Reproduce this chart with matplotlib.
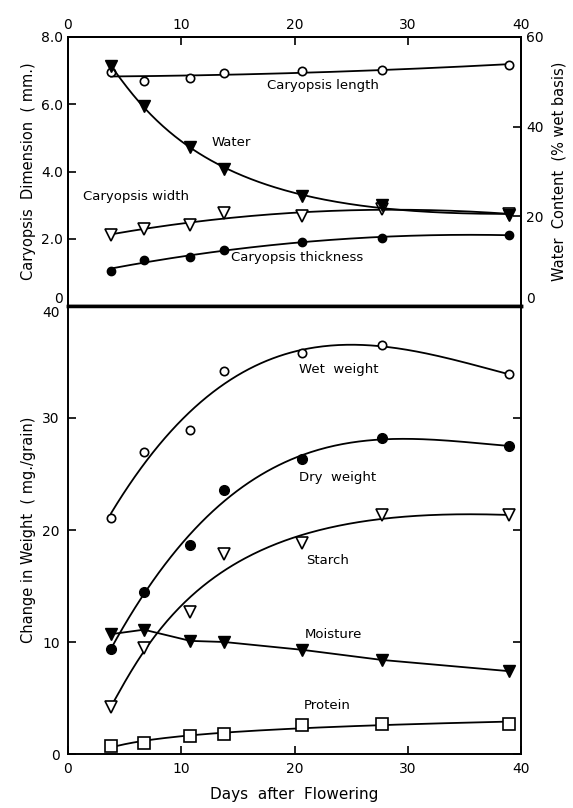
import numpy as np
import matplotlib.pyplot as plt

plt.rcParams['font.family'] = ['DejaVu Sans']

# days after flowering (sampling dates)
days = np.array([3.8, 6.7, 10.8, 13.8, 20.7, 27.7, 38.9])

# top panel: caryopsis dimensions (mm) and water content (% wet basis)
length = np.array([6.95, 6.70, 6.78, 6.93, 6.98, 7.02, 7.18])
width = np.array([2.12, 2.28, 2.42, 2.78, 2.68, 2.87, 2.75])
thickness = np.array([1.05, 1.38, 1.47, 1.68, 1.90, 2.02, 2.12])
water = np.array([53.5, 44.5, 35.5, 30.5, 24.5, 22.5, 20.3])

# bottom panel: change in weight (mg/grain)
wet_wt = np.array([21.1, 27.0, 28.9, 34.2, 35.8, 36.5, 33.9])
dry_wt = np.array([9.4, 14.5, 18.7, 23.6, 26.3, 28.2, 27.5])
starch = np.array([4.2, 9.5, 12.7, 17.9, 18.8, 21.3, 21.3])
moisture = np.array([10.7, 11.1, 10.1, 10.0, 9.3, 8.4, 7.4])
protein = np.array([0.7, 1.0, 1.6, 1.8, 2.6, 2.7, 2.7])

xs = np.linspace(days[0], days[-1], 200)


def fit(y, deg, logx=False):
    u = np.log(days) if logx else days
    us = np.log(xs) if logx else xs
    return np.polyval(np.polyfit(u, y, deg), us)


W, H = 573, 808
fig = plt.figure(figsize=(W / 100, H / 100), dpi=100)
L, R = 68, 521
ax1 = fig.add_axes([L / W, 1 - 306 / H, (R - L) / W, (306 - 37) / H])
ax2 = fig.add_axes([L / W, 1 - 754 / H, (R - L) / W, (754 - 306) / H])
ax1r = ax1.twinx()

lw = 1.3
ms = 7
k = 'black'

# ---- top panel
ax1.plot(xs, fit(length, 2), color=k, lw=lw)
ax1.plot(days, length, 'o', mfc='white', mec=k, mew=1.2, ms=ms - 1)
ax1.plot(xs, fit(width, 2), color=k, lw=lw)
ax1.plot(days, width, 'v', mfc='white', mec=k, mew=1.2, ms=ms + 1)
ax1.plot(xs, fit(thickness, 2), color=k, lw=lw)
ax1.plot(days, thickness, 'o', color=k, ms=ms - 1)
ax1r.plot(xs, fit(water, 3, logx=True), color=k, lw=lw)
ax1r.plot(days, water, 'v', color=k, ms=ms + 1)

ax1.set_xlim(0, 40)
ax1.set_ylim(0, 8)
ax1r.set_ylim(0, 60)
ax1.set_xticks([0, 10, 20, 30, 40])
ax1.set_yticks([0, 2, 4, 6, 8])
ax1.set_yticklabels(['0', '2.0', '4.0', '6.0', '8.0'])
ax1r.set_yticks([0, 20, 40, 60])
ax1.tick_params(direction='in', length=6, width=1.2, labelsize=10,
                top=True, bottom=False, labeltop=True, labelbottom=False)
ax1r.tick_params(direction='in', length=6, width=1.2, labelsize=10)
ax1.get_yticklabels()[0].set_va('bottom')
ax1r.get_yticklabels()[0].set_va('bottom')

ax1.set_ylabel('Caryopsis  Dimension  ( mm.)', fontsize=10.5, labelpad=4)
ax1r.set_ylabel('Water  Content  (% wet basis)', fontsize=10.5,
                rotation=90, labelpad=6)

tk = dict(fontsize=9.5, ha='center', va='center')
ax1.text(22.5, 6.55, 'Caryopsis length', **tk)
ax1.text(14.4, 4.86, 'Water', **tk)
ax1.text(6.0, 3.25, 'Caryopsis width', **tk)
ax1.text(20.2, 1.45, 'Caryopsis thickness', **tk)

# ---- bottom panel
ax2.plot(xs, fit(wet_wt, 3), color=k, lw=lw)
ax2.plot(days, wet_wt, 'o', mfc='white', mec=k, mew=1.2, ms=ms - 1)
ax2.plot(xs, fit(dry_wt, 3), color=k, lw=lw)
ax2.plot(days, dry_wt, 'o', color=k, ms=ms)
ax2.plot(xs, fit(starch, 3, logx=True), color=k, lw=lw)
ax2.plot(days, starch, 'v', mfc='white', mec=k, mew=1.2, ms=ms + 2)
ax2.plot(days, moisture, color=k, lw=lw)
ax2.plot(days, moisture, 'v', color=k, ms=ms + 2)
ax2.plot(xs, fit(protein, 2, logx=True), color=k, lw=lw)
ax2.plot(days, protein, 's', mfc='white', mec=k, mew=1.2, ms=ms + 2)

ax2.set_xlim(0, 40)
ax2.set_ylim(0, 40)
ax2.set_xticks([0, 10, 20, 30, 40])
ax2.set_yticks([0, 10, 20, 30, 40])
ax2.tick_params(direction='in', length=6, width=1.2, labelsize=10,
                right=True, pad=6)
ax2.get_yticklabels()[-1].set_va('top')
ax2.set_ylabel('Change in Weight  ( mg./grain)', fontsize=10.5, labelpad=4)
ax2.set_xlabel('Days  after  Flowering', fontsize=11, labelpad=8)

ax2.text(23.9, 34.3, 'Wet  weight', **tk)
ax2.text(23.8, 24.7, 'Dry  weight', **tk)
ax2.text(22.9, 17.3, 'Starch', **tk)
ax2.text(23.4, 10.7, 'Moisture', **tk)
ax2.text(22.9, 4.3, 'Protein', **tk)

for a in (ax1, ax1r, ax2):
    for s in a.spines.values():
        s.set_linewidth(1.4)
ax1.spines['bottom'].set_linewidth(2.5)
ax2.spines['top'].set_linewidth(2.5)

fig.savefig('out.png', dpi=100)
